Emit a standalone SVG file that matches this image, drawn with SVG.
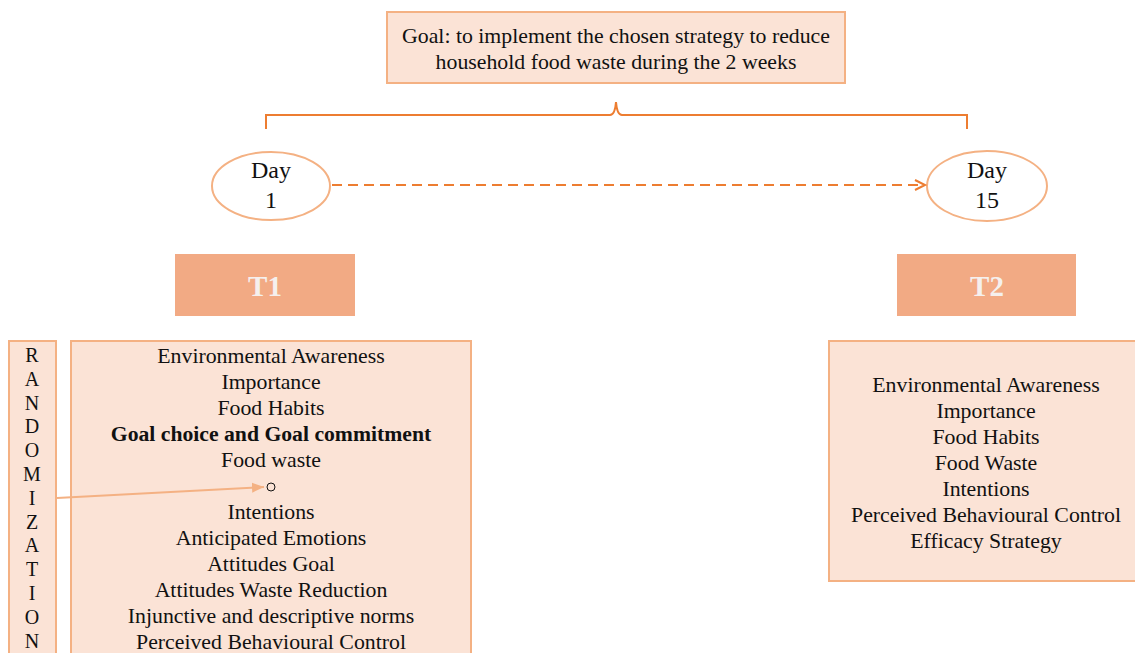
<svg xmlns="http://www.w3.org/2000/svg" width="1135" height="653" viewBox="0 0 1135 653">
<style>
.box{fill:#FBE3D6;stroke:#F4B183;stroke-width:2}
.t{font-family:"Liberation Serif","Times New Roman",serif;font-size:21.8px;fill:#111;text-anchor:middle}
.d{font-size:24px}
.hd{font-family:"Liberation Serif","Times New Roman",serif;font-size:29px;font-weight:bold;fill:#F5F0EE;text-anchor:middle}
.tbox{fill:#F2AA84}
.ell{fill:#fff;stroke:#F4B183;stroke-width:2}
</style>
<defs>
<marker id="chev" markerWidth="14" markerHeight="14" refX="11" refY="7" orient="auto" markerUnits="userSpaceOnUse">
<path d="M1,2 L11,7 L1,12" fill="none" stroke="#ED7D31" stroke-width="2"/>
</marker>
<marker id="tri" markerWidth="14" markerHeight="12" refX="12" refY="6" orient="auto" markerUnits="userSpaceOnUse">
<path d="M0,1 L12,6 L0,11 Z" fill="#F4B183"/>
</marker>
</defs>
<rect width="1135" height="653" fill="#fff"/>
<g id="goal">
<rect class="box" x="387" y="12" width="458" height="71"/>
<text class="t" x="616" y="43">Goal: to implement the chosen strategy to reduce</text>
<text class="t" x="616" y="69">household food waste during the 2 weeks</text>
</g>
<g id="day1">
<ellipse class="ell" cx="271" cy="186" rx="59" ry="34"/>
<text class="t d" x="271" y="178">Day</text>
<text class="t d" x="271" y="208">1</text>
</g>
<g id="day15">
<ellipse class="ell" cx="987" cy="186" rx="60" ry="35"/>
<text class="t d" x="987" y="178">Day</text>
<text class="t d" x="987" y="208">15</text>
</g>
<g id="t1">
<rect class="tbox" x="175" y="254" width="180" height="62"/>
<text class="hd" x="265" y="296">T1</text>
</g>
<g id="t2">
<rect class="tbox" x="897" y="254" width="179" height="62"/>
<text class="hd" x="987" y="296">T2</text>
</g>
<g id="randomization">
<rect class="box" x="9" y="341" width="47" height="320"/>
<g class="t" style="font-size:20px">
<text x="32" y="362">R</text>
<text x="32" y="386">A</text>
<text x="32" y="410">N</text>
<text x="32" y="433">D</text>
<text x="32" y="457">O</text>
<text x="32" y="481">M</text>
<text x="32" y="505">I</text>
<text x="32" y="529">Z</text>
<text x="32" y="552">A</text>
<text x="32" y="576">T</text>
<text x="32" y="600">I</text>
<text x="32" y="624">O</text>
<text x="32" y="648">N</text>
</g>
</g>
<g id="t1-measures">
<rect class="box" x="71" y="341" width="400" height="320"/>
<text class="t" x="271" y="363">Environmental Awareness</text>
<text class="t" x="271" y="389">Importance</text>
<text class="t" x="271" y="415">Food Habits</text>
<text class="t" x="271" y="441" font-weight="bold" style="font-size:21.7px">Goal choice and Goal commitment</text>
<text class="t" x="271" y="467">Food waste</text>
<circle cx="271" cy="487" r="4" fill="none" stroke="#111" stroke-width="1"/>
<text class="t" x="271" y="519">Intentions</text>
<text class="t" x="271" y="545">Anticipated Emotions</text>
<text class="t" x="271" y="571">Attitudes Goal</text>
<text class="t" x="271" y="597">Attitudes Waste Reduction</text>
<text class="t" x="271" y="623">Injunctive and descriptive norms</text>
<text class="t" x="271" y="649">Perceived Behavioural Control</text>
</g>
<g id="t2-measures">
<rect class="box" x="829" y="341" width="310" height="240"/>
<text class="t" x="986" y="392">Environmental Awareness</text>
<text class="t" x="986" y="418">Importance</text>
<text class="t" x="986" y="444">Food Habits</text>
<text class="t" x="986" y="470">Food Waste</text>
<text class="t" x="986" y="496">Intentions</text>
<text class="t" x="986" y="522">Perceived Behavioural Control</text>
<text class="t" x="986" y="548">Efficacy Strategy</text>
</g>
<g id="connectors">
<path d="M266,129 L266,115 L610,115 Q615,115 616,102 Q617,115 622,115 L967,115 L967,129" fill="none" stroke="#ED7D31" stroke-width="2"/>
<line x1="332" y1="185" x2="925" y2="185" stroke="#ED7D31" stroke-width="2" stroke-dasharray="10,6" marker-end="url(#chev)"/>
<line x1="57" y1="498" x2="264" y2="487" stroke="#F4B183" stroke-width="2" marker-end="url(#tri)"/>
</g>
</svg>
